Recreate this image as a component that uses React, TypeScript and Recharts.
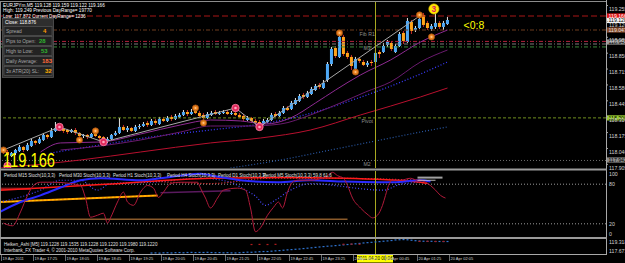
import React from 'react';
import { ComposedChart, Bar, Line, Scatter, XAxis, YAxis, ReferenceLine } from 'recharts';

const FONT = '"Liberation Sans", Arial, Helvetica, sans-serif';
const X_DOMAIN: [number, number] = [-0.875, 150.625];
const PRICE_DOMAIN: [number, number] = [117.874, 119.285];
const HA_DOMAIN: [number, number] = [116.667, 119.409];

// ---------- Heiken Ashi candles (EURJPYm, M5) ----------
const opens = [
  118.027, 118.010, 117.976, 118.001, 118.018, 118.053, 118.027, 118.061, 118.104, 118.087,
  118.112, 118.155, 118.137, 118.189, 118.214, 118.206, 118.197, 118.180, 118.197, 118.172,
  118.146, 118.155, 118.137, 118.163, 118.146, 118.137, 118.104, 118.120, 118.155, 118.172,
  118.223, 118.197, 118.214, 118.189, 118.223, 118.231, 118.257, 118.240, 118.274, 118.248,
  118.291, 118.274, 118.308, 118.291, 118.308, 118.325, 118.350, 118.333, 118.359, 118.342,
  118.325, 118.299, 118.325, 118.350, 118.333, 118.342, 118.350, 118.333, 118.342, 118.325,
  118.316, 118.282, 118.299, 118.274, 118.265, 118.248, 118.265, 118.282, 118.333, 118.316,
  118.342, 118.384, 118.376, 118.418, 118.444, 118.495, 118.478, 118.503, 118.537, 118.580,
  118.554, 118.622, 118.758, 118.894, 118.818, 118.988, 118.852, 118.818, 118.716, 118.801,
  118.775, 118.750, 118.775, 118.775, 118.860, 118.860, 118.920, 118.937, 118.860, 118.911,
  119.022, 118.945, 119.115, 119.047, 119.064, 119.175, 119.107, 119.056, 119.073, 119.107,
  119.073, 119.098,
];
const closes = [
  118.010, 117.984, 118.001, 118.027, 118.053, 118.027, 118.070, 118.104, 118.087, 118.120,
  118.155, 118.137, 118.189, 118.214, 118.206, 118.189, 118.180, 118.197, 118.172, 118.146,
  118.155, 118.137, 118.163, 118.146, 118.129, 118.112, 118.120, 118.155, 118.172, 118.223,
  118.197, 118.214, 118.189, 118.223, 118.231, 118.248, 118.240, 118.274, 118.257, 118.291,
  118.274, 118.299, 118.291, 118.316, 118.325, 118.350, 118.333, 118.350, 118.342, 118.316,
  118.299, 118.333, 118.342, 118.333, 118.342, 118.350, 118.333, 118.342, 118.325, 118.308,
  118.291, 118.299, 118.274, 118.257, 118.248, 118.274, 118.282, 118.325, 118.316, 118.342,
  118.384, 118.367, 118.427, 118.452, 118.486, 118.478, 118.512, 118.546, 118.571, 118.563,
  118.597, 118.758, 118.886, 118.826, 118.988, 118.843, 118.818, 118.741, 118.801, 118.784,
  118.750, 118.767, 118.767, 118.852, 118.843, 118.911, 118.945, 118.886, 118.911, 119.013,
  118.954, 119.124, 119.039, 119.064, 119.141, 119.090, 119.064, 119.081, 119.107, 119.073,
  119.107, 119.132,
];
const highs = [
  118.044, 118.027, 118.010, 118.036, 118.070, 118.061, 118.087, 118.120, 118.112, 118.137,
  118.172, 118.163, 118.214, 118.265, 118.231, 118.214, 118.206, 118.206, 118.214, 118.180,
  118.163, 118.163, 118.172, 118.172, 118.155, 118.146, 118.137, 118.163, 118.189, 118.299,
  118.240, 118.231, 118.223, 118.240, 118.248, 118.265, 118.274, 118.291, 118.291, 118.308,
  118.308, 118.316, 118.325, 118.333, 118.342, 118.367, 118.367, 118.376, 118.384, 118.359,
  118.342, 118.350, 118.359, 118.367, 118.359, 118.367, 118.367, 118.359, 118.359, 118.342,
  118.333, 118.316, 118.308, 118.291, 118.282, 118.291, 118.299, 118.342, 118.350, 118.359,
  118.401, 118.401, 118.444, 118.469, 118.503, 118.512, 118.529, 118.563, 118.588, 118.597,
  118.622, 118.775, 118.903, 118.911, 119.022, 119.005, 118.869, 118.835, 118.818, 118.809,
  118.792, 118.784, 118.792, 118.877, 118.877, 118.937, 118.962, 118.954, 118.928, 119.030,
  119.039, 119.149, 119.132, 119.081, 119.166, 119.192, 119.124, 119.098, 119.192, 119.124,
  119.124, 119.158,
];
const lows = [
  117.993, 117.967, 117.967, 117.984, 118.010, 118.010, 118.018, 118.053, 118.070, 118.078,
  118.104, 118.120, 118.129, 118.180, 118.189, 118.172, 118.163, 118.172, 118.155, 118.129,
  118.129, 118.120, 118.129, 118.137, 118.112, 118.095, 118.087, 118.112, 118.146, 118.163,
  118.189, 118.180, 118.180, 118.180, 118.206, 118.223, 118.223, 118.231, 118.240, 118.240,
  118.265, 118.265, 118.274, 118.282, 118.299, 118.316, 118.316, 118.325, 118.333, 118.308,
  118.282, 118.291, 118.316, 118.325, 118.325, 118.333, 118.325, 118.325, 118.316, 118.299,
  118.274, 118.274, 118.257, 118.240, 118.231, 118.240, 118.257, 118.274, 118.308, 118.308,
  118.333, 118.359, 118.367, 118.410, 118.435, 118.461, 118.469, 118.495, 118.529, 118.546,
  118.546, 118.605, 118.741, 118.809, 118.809, 118.826, 118.801, 118.707, 118.690, 118.767,
  118.741, 118.733, 118.741, 118.758, 118.809, 118.852, 118.903, 118.869, 118.852, 118.903,
  118.928, 118.937, 119.013, 119.030, 119.056, 119.073, 119.047, 119.039, 119.056, 119.056,
  119.047, 119.090,
];
const candles = closes.map((c, i) => ({ t: i, o: opens[i], h: highs[i], l: lows[i], c, range: [lows[i], highs[i]] }));

// ---------- main panel overlays ----------
const zigzag = [
  { t: 0, p: 118.027 }, { t: 14, p: 118.223 }, { t: 25, p: 118.095 },
  { t: 58, p: 118.384 }, { t: 64, p: 118.223 }, { t: 104, p: 119.166 },
];
const purpleFast = [
  { t: 9.25, p: 118.010 }, { t: 14.25, p: 118.087 }, { t: 24.25, p: 118.095 }, { t: 34.25, p: 118.163 },
  { t: 44.25, p: 118.240 }, { t: 51.75, p: 118.282 }, { t: 59.25, p: 118.274 }, { t: 65.5, p: 118.248 },
  { t: 71.75, p: 118.299 }, { t: 78, p: 118.427 }, { t: 83, p: 118.537 }, { t: 89.25, p: 118.665 },
  { t: 96.75, p: 118.792 }, { t: 104.25, p: 118.945 }, { t: 111, p: 119.047 },
];
const purpleSlow = [
  { t: 14.25, p: 118.027 }, { t: 24.25, p: 118.061 }, { t: 34.25, p: 118.112 }, { t: 44.25, p: 118.180 },
  { t: 51.75, p: 118.231 }, { t: 61.75, p: 118.231 }, { t: 69.25, p: 118.248 }, { t: 76.75, p: 118.325 },
  { t: 84.25, p: 118.427 }, { t: 90.5, p: 118.520 }, { t: 96.75, p: 118.605 }, { t: 104.25, p: 118.775 },
  { t: 111, p: 118.877 },
];
const blueDottedMa = [
  { t: 11.75, p: 118.001 }, { t: 24.25, p: 118.070 }, { t: 36.75, p: 118.137 }, { t: 51.75, p: 118.197 },
  { t: 64.25, p: 118.248 }, { t: 74.25, p: 118.316 }, { t: 84.25, p: 118.418 }, { t: 94.25, p: 118.537 },
  { t: 104.25, p: 118.673 }, { t: 111, p: 118.775 },
];
const redMa = [
  { t: -0.875, p: 117.874 }, { t: 19.25, p: 117.942 }, { t: 34.25, p: 118.010 }, { t: 51.75, p: 118.087 },
  { t: 64.25, p: 118.129 }, { t: 76.75, p: 118.197 }, { t: 89.25, p: 118.325 }, { t: 104.25, p: 118.478 },
  { t: 111, p: 118.554 },
];
const navyMa = [
  { t: 56.75, p: 117.874 }, { t: 69.25, p: 117.942 }, { t: 81.75, p: 118.027 }, { t: 94.25, p: 118.112 },
  { t: 104.25, p: 118.180 }, { t: 111, p: 118.223 },
];
const orangeMarks = [
  { t: 0, p: 118.027 }, { t: 19, p: 118.112 }, { t: 23, p: 118.189 }, { t: 48, p: 118.384 }, { t: 50, p: 118.257 },
  { t: 84, p: 119.022 }, { t: 88, p: 118.690 }, { t: 104, p: 119.175 }, { t: 107, p: 118.988 },
];
const pinkMarks = [
  { t: 1, p: 117.891 }, { t: 14, p: 118.223 }, { t: 25, p: 118.095 }, { t: 58, p: 118.384 }, { t: 64, p: 118.223 },
];
const countMark = [{ t: 107.6, p: 119.226, label: '3' }];
const barTimer = [{ t: 115, p: 119.056, label: '<0:8' }];
const levelNotes = [
  { t: 89, p: 119.047, label: 'Fib R1' },
  { t: 90, p: 118.928, label: 'M3' },
  { t: 89.5, p: 118.300, label: 'Pivot' },
  { t: 90, p: 117.938, label: 'M2' },
];
const levelPrices = [119.166, 119.047, 118.950, 118.928, 118.903, 118.300, 117.938];
const LEVEL_STYLES = [
  { stroke: '#a81616', dash: '6 3' },
  { stroke: '#6e3c1e', dash: '4 2 1 2' },
  { stroke: '#b0203c', dash: '4 2 1 2' },
  { stroke: '#7a7a7a', dash: '4 2 1 2' },
  { stroke: '#3c8a3c', dash: '4 2 1 2' },
  { stroke: '#6f8f1f', dash: '3 2' },
  { stroke: '#6a6a6a', dash: '1 2' },
];
const badgePrices = [119.166, 119.128, 119.047, 118.945, 118.300, 117.942];
const BADGE_STYLES = [
  { bg: '#e01414', fg: '#ffffff' },
  { bg: '#f2f2f2', fg: '#000000' },
  { bg: '#8a4a28', fg: '#e0e0e0' },
  { bg: '#9a9a9a', fg: '#000000' },
  { bg: '#9acd32', fg: '#000000' },
  { bg: '#8c8c8c', fg: '#000000' },
];
const PRICE_TICKS = [119.255, 119.12, 118.985, 118.85, 118.715, 118.58, 118.445, 118.31, 118.175, 118.04, 117.905];
const CURSOR_T = 93;

// ---------- stochastic panel ----------
const stochM5 = [
  { t: 0, v: 21 }, { t: 2.25, v: 17 }, { t: 4.25, v: 38 }, { t: 6, v: 63 }, { t: 7.5, v: 78 }, { t: 9.25, v: 83 },
  { t: 12.5, v: 83 }, { t: 16.75, v: 81 }, { t: 19.25, v: 78 }, { t: 20.5, v: 59 }, { t: 21.75, v: 30 },
  { t: 23.5, v: 33 }, { t: 25, v: 36 }, { t: 26, v: 21 }, { t: 26.75, v: 29 }, { t: 28.5, v: 53 }, { t: 30, v: 68 },
  { t: 31, v: 53 }, { t: 32.5, v: 48 }, { t: 34.25, v: 68 }, { t: 36, v: 78 }, { t: 37.5, v: 74 }, { t: 38.75, v: 60 },
  { t: 40, v: 68 }, { t: 41.75, v: 81 }, { t: 44.25, v: 83 }, { t: 48.5, v: 83 }, { t: 49.25, v: 74 }, { t: 50.5, v: 59 },
  { t: 51.75, v: 44 }, { t: 53.5, v: 59 }, { t: 55, v: 71 }, { t: 58.5, v: 74 }, { t: 60.5, v: 71 }, { t: 61.75, v: 44 },
  { t: 63, v: 8 }, { t: 64.25, v: 14 }, { t: 66, v: 33 }, { t: 67.5, v: 45 }, { t: 68.75, v: 53 }, { t: 69.75, v: 44 },
  { t: 71, v: 68 }, { t: 72.25, v: 83 }, { t: 73.5, v: 86 }, { t: 76.75, v: 86 }, { t: 81, v: 93 }, { t: 82.25, v: 98 },
  { t: 83.5, v: 93 }, { t: 85, v: 89 }, { t: 86, v: 78 }, { t: 87.25, v: 59 }, { t: 89.25, v: 44 }, { t: 91.25, v: 33 },
  { t: 92.25, v: 29 }, { t: 93.5, v: 33 }, { t: 94.75, v: 48 }, { t: 95.5, v: 63 }, { t: 96.25, v: 78 }, { t: 97.25, v: 86 },
  { t: 99.25, v: 86 }, { t: 101.75, v: 89 }, { t: 103.5, v: 86 }, { t: 104.25, v: 86 }, { t: 105.5, v: 83 },
  { t: 106.75, v: 78 }, { t: 108, v: 71 }, { t: 109.25, v: 63 }, { t: 110.5, v: 59 },
];
const stochH1 = [
  { t: -0.875, v: 38 }, { t: 4.25, v: 53 }, { t: 9.25, v: 63 }, { t: 14.25, v: 75 }, { t: 19.25, v: 86 },
  { t: 24.25, v: 89 }, { t: 34.25, v: 86 }, { t: 39.25, v: 89 }, { t: 44.25, v: 93 }, { t: 49.25, v: 96 },
  { t: 53, v: 92 }, { t: 59.25, v: 86 }, { t: 68.5, v: 83 }, { t: 76.75, v: 86 }, { t: 85, v: 84 },
  { t: 93.5, v: 83 }, { t: 97.5, v: 83 }, { t: 104.25, v: 86 }, { t: 106.75, v: 84 },
];
const stochH4 = [
  { t: -0.875, v: 71 }, { t: 25.5, v: 80 }, { t: 51.75, v: 89 }, { t: 69.25, v: 90 }, { t: 85, v: 89 },
  { t: 104.25, v: 83 }, { t: 106, v: 81 },
];
const stochM30 = [{ t: -0.875, v: 53 }, { t: 38.5, v: 63 }];
const stochD1 = [{ t: -0.875, v: 27 }, { t: 86, v: 27 }];
const stochM15 = [{ t: -0.875, v: 73 }, { t: 6.75, v: 73 }];
const stochPurple = [{ t: 39.25, v: 67 }, { t: 56.75, v: 70 }];
const stochSignal = [
  { t: -0.875, v: 53 }, { t: 9.25, v: 71 }, { t: 14.25, v: 86 }, { t: 19.25, v: 86 }, { t: 23.5, v: 71 },
  { t: 26.75, v: 81 }, { t: 36.75, v: 83 }, { t: 49.25, v: 89 }, { t: 56.75, v: 83 }, { t: 60.5, v: 71 },
  { t: 63, v: 62 }, { t: 65.5, v: 48 }, { t: 68, v: 56 }, { t: 71.75, v: 71 }, { t: 76.75, v: 81 },
  { t: 84.25, v: 77 }, { t: 88, v: 74 }, { t: 95, v: 71 }, { t: 99.25, v: 80 }, { t: 104.25, v: 83 },
];
const stochRedSignal = [
  { t: 34.25, v: 86 }, { t: 51.75, v: 81 }, { t: 66.75, v: 89 }, { t: 82.5, v: 89 }, { t: 104.25, v: 86 },
];
const stochGrayEnd = [{ t: 103.5, v: 90 }, { t: 109.75, v: 90 }];
const stochWhiteEnd = [{ t: 103.5, v: 86 }, { t: 108, v: 86 }];
const STOCH_TICKS = [100, 80, 20, 0];
const STOCH_HEADERS = [
  'Period M15 Stoch(10,3,3)', 'Period M30 Stoch(10,3,3)', 'Period H1 Stoch(10,3,3)',
  'Period H4 Stoch(10,3,3)', 'Period D1 Stoch(10,3,3)', 'Period M5 Stoch(10,3,3) 59.8 61.6',
];
const STOCH_HEADER_X = [4, 59, 113, 167, 218, 263];

// ---------- Heiken Ashi panel ----------
const HA_START = 37;
const haBlue = [
  116.85, 116.87, 116.83, 116.88, 116.90, 116.86, 116.91, 116.93, 116.89, 116.94, 116.96, 116.92, 116.95,
  116.94, 116.97, 116.93, 116.90, 116.92, 116.88, 116.91, 116.87,
  116.86, 116.90, 116.95, 117.00, 116.98, 117.03, 117.08, 117.12,
  117.12, 117.18, 117.24, 117.29, 117.36, 117.42, 117.47, 117.53,
  117.58, 117.66, 117.73, 117.80, 117.88, 117.95, 118.02, 118.09,
  118.13, 118.20, 118.27, 118.34, 118.40, 118.47, 118.53, 118.60,
  118.68, 118.74, 118.80, 118.87, 118.93, 119.00, 119.06, 119.13,
  119.23, 119.27, 119.30, 119.26, 119.18, 119.10,
  119.04, 119.00, 118.97, 118.99, 118.95, 118.96, 118.94, 118.95,
];
const haBlueData = haBlue.map((v, i) => ({ t: HA_START + i, v }));
const haRed = [
  { t: 62, v: 118.40 }, { t: 64, v: 118.42 }, { t: 66, v: 118.40 }, { t: 68, v: 118.43 },
  { t: 85, v: 118.45 }, { t: 87, v: 118.47 }, { t: 89, v: 118.45 },
  { t: 104, v: 118.97 }, { t: 106, v: 118.99 }, { t: 108, v: 118.96 }, { t: 110, v: 118.97 },
];
const HA_TICKS = [119.318, 117.673];
const TIME_TICKS = [0, 8, 16, 24, 32, 40, 48, 56, 64, 72, 80, 88, 96, 104, 112];
const TIME_LABELS = [
  '19 Apr 2011', '19 Apr 17:25', '19 Apr 18:05', '19 Apr 18:45', '19 Apr 19:25', '19 Apr 20:05',
  '19 Apr 20:45', '19 Apr 21:25', '19 Apr 22:05', '19 Apr 22:45', '19 Apr 23:25', '20 Apr 00:05',
  '20 Apr 00:45', '20 Apr 01:25', '20 Apr 02:05',
];
const CURSOR_LABEL = '2011.04.20 00:06';

// ---------- info box ----------
const INFO_LINES = [
  'EURJPYm,M5  119.128 119.159 119.122 119.166',
  'High: 119.249 Previous DayRange= 19770',
  'Low: 117.872 Current DayRange= 1236',
];
const CLOSE_LINE = 'Close: 118.876';
const INFO_LABELS = ['Spread', 'Pips to Open:', 'High to Low:', 'Daily Average:', '3x ATR(20) SL:'];
const INFO_VALUES = ['4', '28', '53', '183', '32'];
const INFO_COLORS = ['#ff9a00', '#2fb52f', '#2fb52f', '#ff6a3a', '#ffae00'];
const INFO_VALUE_X = [43, 39, 41, 42, 45];
const LAST_PRICE = '119.166';
const HA_TEXT = 'Heiken_Ashi [M5]  119.1228 119.1535 119.1228 119.1220 119.1980 119.1220';
const COPYRIGHT = 'Interbank_FX Trader 4, \u00a9 2001-2010 MetaQuotes Software Corp.';

// ---------- shapes ----------
function Candle(props: any) {
  const { x, y, width, height, payload } = props;
  if (x == null || y == null || !payload) return null;
  const top = Math.min(y, y + height);
  const bot = Math.max(y, y + height);
  const span = payload.h - payload.l;
  const py = (p: number) => (span > 0 ? top + ((payload.h - p) / span) * (bot - top) : top);
  const cx = x + width / 2;
  const up = payload.c >= payload.o;
  const yo = py(payload.o);
  const yc = py(payload.c);
  const bt = Math.min(yo, yc);
  const bh = Math.max(1, Math.abs(yc - yo));
  return (
    <g>
      <line x1={cx} x2={cx} y1={top} y2={bot} stroke={up ? '#e4e4e4' : '#c42a2a'} strokeWidth={1} />
      <rect x={cx - 1.5} y={bt} width={3} height={bh} fill={up ? '#4ea8f5' : '#ffa31a'} />
    </g>
  );
}
function OrangeDot(props: any) {
  const { cx, cy } = props;
  return (
    <g>
      <circle cx={cx} cy={cy} r={3.1} fill="#e8801e" stroke="#a04c10" strokeWidth={0.8} />
      <circle cx={cx} cy={cy} r={1.1} fill="#ffc080" />
    </g>
  );
}
function PinkDot(props: any) {
  const { cx, cy } = props;
  return (
    <g>
      <circle cx={cx} cy={cy} r={3.7} fill="#e02a5c" stroke="#ff86a8" strokeWidth={0.8} />
      <circle cx={cx} cy={cy} r={1.3} fill="#ffa6c0" />
    </g>
  );
}
function CountBadge(props: any) {
  const { cx, cy, payload } = props;
  return (
    <g>
      <circle cx={cx} cy={cy} r={5.2} fill="#ffe600" stroke="#b09000" strokeWidth={0.6} />
      <text x={cx} y={cy + 3} textAnchor="middle" fontSize={8.5} fontWeight="bold" fill="#d81b60" fontFamily={FONT}>{payload.label}</text>
    </g>
  );
}
function TimerText(props: any) {
  const { cx, cy, payload } = props;
  return <text x={cx} y={cy} fontSize={10.5} fill="#ffff00" fontFamily={FONT}>{payload.label}</text>;
}
function NoteText(props: any) {
  const { cx, cy, payload } = props;
  return <text x={cx} y={cy + 5.5} fontSize={5.2} fill="#8e8e8e" fontFamily={FONT}>{payload.label}</text>;
}
function HaDot(props: any) {
  const { cx, cy, fill } = props;
  return <rect x={cx - 1} y={cy - 0.6} width={2} height={1.2} fill={fill} />;
}
function PriceTick(props: any) {
  const { x, y, payload } = props;
  return (
    <g>
      <line x1={x - 3} x2={x - 1} y1={y} y2={y} stroke="#a8a8a8" />
      <text x={x} y={y + 5.2} fontSize={5.2} fill="#d2d2d2" fontFamily={FONT}>{Number(payload.value).toFixed(3)}</text>
    </g>
  );
}
function StochTick(props: any) {
  const { x, y, payload } = props;
  const v = payload.value;
  const off = v === 100 ? 3 : v === 0 ? -3 : 0;
  return <text x={x} y={y + off + 1.9} fontSize={5.2} fill="#d2d2d2" fontFamily={FONT}>{v}</text>;
}
function HaTick(props: any) {
  const { x, y, payload } = props;
  return <text x={x} y={y + 4.1} fontSize={5.2} fill="#d2d2d2" fontFamily={FONT}>{Number(payload.value).toFixed(3)}</text>;
}
function TimeTick(props: any) {
  const { x, y, payload } = props;
  const i = TIME_TICKS.indexOf(payload.value);
  return (
    <g>
      <line x1={x - 2} x2={x - 2} y1={y + 1} y2={y + 7} stroke="#9a9a9a" strokeWidth={0.7} />
      <text x={x - 1} y={y + 5.6} fontSize={4} fill="#cfcfcf" fontFamily={FONT}>{TIME_LABELS[i]}</text>
    </g>
  );
}
function PriceBadge(props: any) {
  const { viewBox, badgeText, bg, fg } = props;
  if (!viewBox) return null;
  const x = viewBox.x + viewBox.width + 0.5;
  const y = viewBox.y;
  return (
    <g>
      <rect x={x} y={y - 2.6} width={19} height={5.2} fill={bg} />
      <text x={x + 2} y={y + 1.9} fontSize={5.2} fill={fg} fontFamily={FONT}>{badgeText}</text>
    </g>
  );
}
function DateBadge(props: any) {
  const { viewBox, badgeText } = props;
  if (!viewBox) return null;
  const x = viewBox.x;
  const y = viewBox.y + viewBox.height;
  return (
    <g>
      <rect x={x - 18.5} y={y + 0.5} width={36} height={8} fill="#ffff00" />
      <text x={x - 0.5} y={y + 6} textAnchor="middle" fontSize={4.6} fill="#000" fontFamily={FONT}>{badgeText}</text>
    </g>
  );
}

const lineProps = { dot: false, activeDot: false, isAnimationActive: false, legendType: 'none' as const };

export default function App() {
  return (
    <div style={{ position: 'absolute', left: 0, top: 0, width: 625, height: 263, background: '#000', overflow: 'hidden' }}>
      <div style={{ position: 'absolute', left: 0, top: 0 }}>
        <ComposedChart width={625} height={170} data={candles} margin={{ top: 2, right: 0, bottom: 2, left: 0 }}>
          <XAxis type="number" dataKey="t" domain={X_DOMAIN} hide allowDataOverflow />
          <YAxis orientation="right" width={19} domain={PRICE_DOMAIN} allowDataOverflow ticks={PRICE_TICKS} interval={0}
            tick={<PriceTick />} tickSize={3} tickMargin={0} tickLine={false} axisLine={false} />
          {levelPrices.map((p, i) => (
            <ReferenceLine key={'lv' + i} y={p} stroke={LEVEL_STYLES[i].stroke} strokeDasharray={LEVEL_STYLES[i].dash} strokeWidth={1} />
          ))}
          <Line data={navyMa} dataKey="p" type="monotone" stroke="#2a5aa8" strokeWidth={1.2} strokeDasharray="1 2" {...lineProps} />
          <Line data={redMa} dataKey="p" type="monotone" stroke="#b8102e" strokeWidth={1} {...lineProps} />
          <Line data={blueDottedMa} dataKey="p" type="monotone" stroke="#3a3aff" strokeWidth={1.3} strokeDasharray="1 2" {...lineProps} />
          <Line data={purpleSlow} dataKey="p" type="monotone" stroke="#6a1a6e" strokeWidth={1} {...lineProps} />
          <Line data={purpleFast} dataKey="p" type="monotone" stroke="#8e2a92" strokeWidth={1} {...lineProps} />
          <Line data={zigzag} dataKey="p" type="linear" stroke="#a8a8a8" strokeWidth={1} {...lineProps} />
          <Bar dataKey="range" barSize={3} shape={<Candle />} isAnimationActive={false} legendType="none" />
          <Scatter data={pinkMarks} dataKey="p" shape={<PinkDot />} isAnimationActive={false} legendType="none" />
          <Scatter data={orangeMarks} dataKey="p" shape={<OrangeDot />} isAnimationActive={false} legendType="none" />
          <Scatter data={levelNotes} dataKey="p" shape={<NoteText />} isAnimationActive={false} legendType="none" />
          <Scatter data={countMark} dataKey="p" shape={<CountBadge />} isAnimationActive={false} legendType="none" />
          <Scatter data={barTimer} dataKey="p" shape={<TimerText />} isAnimationActive={false} legendType="none" />
          <ReferenceLine x={CURSOR_T} stroke="#a8a820" strokeWidth={1} />
          {badgePrices.map((p, i) => (
            <ReferenceLine key={'bd' + i} y={p} stroke="none" strokeOpacity={0}
              label={<PriceBadge badgeText={p.toFixed(3)} bg={BADGE_STYLES[i].bg} fg={BADGE_STYLES[i].fg} />} />
          ))}
        </ComposedChart>
      </div>

      <div style={{ position: 'absolute', left: 0, top: 170 }}>
        <ComposedChart width={625} height={68} data={stochM5} margin={{ top: 1, right: 0, bottom: 1, left: 0 }}>
          <XAxis type="number" dataKey="t" domain={X_DOMAIN} hide allowDataOverflow />
          <YAxis orientation="right" width={19} domain={[0, 100]} allowDataOverflow ticks={STOCH_TICKS} interval={0}
            tick={<StochTick />} tickSize={3} tickMargin={0} tickLine={false} axisLine={false} />
          <ReferenceLine y={80} stroke="#9a9a9a" strokeDasharray="1 2" />
          <ReferenceLine y={20} stroke="#9a9a9a" strokeDasharray="1 2" />
          <Line data={stochD1} dataKey="v" type="linear" stroke="#8a5a2a" strokeWidth={1.6} {...lineProps} />
          <Line data={stochM30} dataKey="v" type="linear" stroke="#ff9900" strokeWidth={2} {...lineProps} />
          <Line data={stochM30} dataKey="v" type="linear" stroke="#ffd000" strokeWidth={0.8} strokeDasharray="2 2" {...lineProps} />
          <Line data={stochPurple} dataKey="v" type="linear" stroke="#5a1a5e" strokeWidth={1.4} {...lineProps} />
          <Line data={stochM15} dataKey="v" type="linear" stroke="#8b1a1a" strokeWidth={2.4} {...lineProps} />
          <Line data={stochSignal} dataKey="v" type="monotone" stroke="#4848ff" strokeWidth={1.2} strokeDasharray="1 2" {...lineProps} />
          <Line data={stochRedSignal} dataKey="v" type="monotone" stroke="#ff3a3a" strokeWidth={1.2} strokeDasharray="1 2" {...lineProps} />
          <Line data={stochH4} dataKey="v" type="monotone" stroke="#ff1a1a" strokeWidth={1.5} {...lineProps} />
          <Line data={stochH1} dataKey="v" type="monotone" stroke="#2a2aff" strokeWidth={2} {...lineProps} />
          <Line dataKey="v" type="monotone" stroke="#b01a3a" strokeWidth={1} {...lineProps} />
          <Line data={stochGrayEnd} dataKey="v" type="linear" stroke="#a0a0a0" strokeWidth={2} {...lineProps} />
          <Line data={stochWhiteEnd} dataKey="v" type="linear" stroke="#e8e8e8" strokeWidth={0.8} {...lineProps} />
          <ReferenceLine x={CURSOR_T} stroke="#a8a820" strokeWidth={1} />
        </ComposedChart>
      </div>

      <div style={{ position: 'absolute', left: 0, top: 238 }}>
        <ComposedChart width={625} height={25} data={haBlueData} margin={{ top: 1, right: 0, bottom: 0, left: 0 }}>
          <XAxis type="number" dataKey="t" domain={X_DOMAIN} allowDataOverflow ticks={TIME_TICKS} interval={0} height={9}
            tick={<TimeTick />} tickSize={0} tickMargin={0} tickLine={false} axisLine={false} />
          <YAxis orientation="right" width={19} domain={HA_DOMAIN} allowDataOverflow ticks={HA_TICKS} interval={0}
            tick={<HaTick />} tickSize={3} tickMargin={0} tickLine={false} axisLine={false} />
          <Scatter dataKey="v" shape={<HaDot fill="#2f74d0" />} isAnimationActive={false} legendType="none" />
          <Scatter data={haRed} dataKey="v" shape={<HaDot fill="#b01c1c" />} isAnimationActive={false} legendType="none" />
          <ReferenceLine x={CURSOR_T} stroke="#a8a820" strokeWidth={1} label={<DateBadge badgeText={CURSOR_LABEL} />} />
        </ComposedChart>
      </div>

      <svg width={625} height={263} style={{ position: 'absolute', left: 0, top: 0, pointerEvents: 'none' }}>
        <line x1={0} x2={606} y1={1.5} y2={1.5} stroke="#8c8c8c" />
        <line x1={0.5} x2={0.5} y1={1.5} y2={254.5} stroke="#8c8c8c" />
        <line x1={606.5} x2={606.5} y1={0} y2={254.5} stroke="#a8a8a8" />
        <rect x={0} y={168.5} width={607} height={2} fill="#9a9a9a" />
        <rect x={0} y={237} width={607} height={2} fill="#9a9a9a" />
        <line x1={0} x2={607} y1={254.5} y2={254.5} stroke="#a8a8a8" />

        {INFO_LINES.map((s, i) => (
          <text key={'il' + i} x={3} y={6.6 + i * 5.6} fontSize={4.7} fill="#ffffff" fontFamily={FONT}>{s}</text>
        ))}
        <rect x={2.5} y={18.5} width={51} height={59} fill="#2e2e2e" stroke="#555" strokeWidth={0.8} />
        <text x={5} y={23.6} fontSize={4.7} fill="#ffffff" fontFamily={FONT}>{CLOSE_LINE}</text>
        {INFO_LABELS.map((s, i) => {
          const c = 31 + i * 10;
          return (
            <g key={'row' + i}>
              <rect x={4} y={c - 4.5} width={48} height={9} fill="#232323" stroke="#5c5c5c" strokeWidth={0.6} />
              <text x={6} y={c + 1.7} fontSize={4.9} fill="#a8a8a8" fontFamily={FONT}>{s}</text>
              <text x={INFO_VALUE_X[i]} y={c + 2.2} fontSize={6} fontWeight="bold" fill={INFO_COLORS[i]} fontFamily={FONT}>{INFO_VALUES[i]}</text>
            </g>
          );
        })}
        <text x={3} y={167} fontSize={20} fill="#ffff00" fontFamily={FONT} textLength={52} lengthAdjust="spacingAndGlyphs">{LAST_PRICE}</text>

        {STOCH_HEADERS.map((s, i) => (
          <text key={'sh' + i} x={STOCH_HEADER_X[i]} y={176.6} fontSize={4.5} fill="#e0e0e0" fontFamily={FONT}>{s}</text>
        ))}
        <text x={4} y={245.6} fontSize={4.5} fill="#e0e0e0" fontFamily={FONT}>{HA_TEXT}</text>
        <text x={4} y={251.7} fontSize={4.5} fill="#e0e0e0" fontFamily={FONT}>{COPYRIGHT}</text>
      </svg>
    </div>
  );
}
